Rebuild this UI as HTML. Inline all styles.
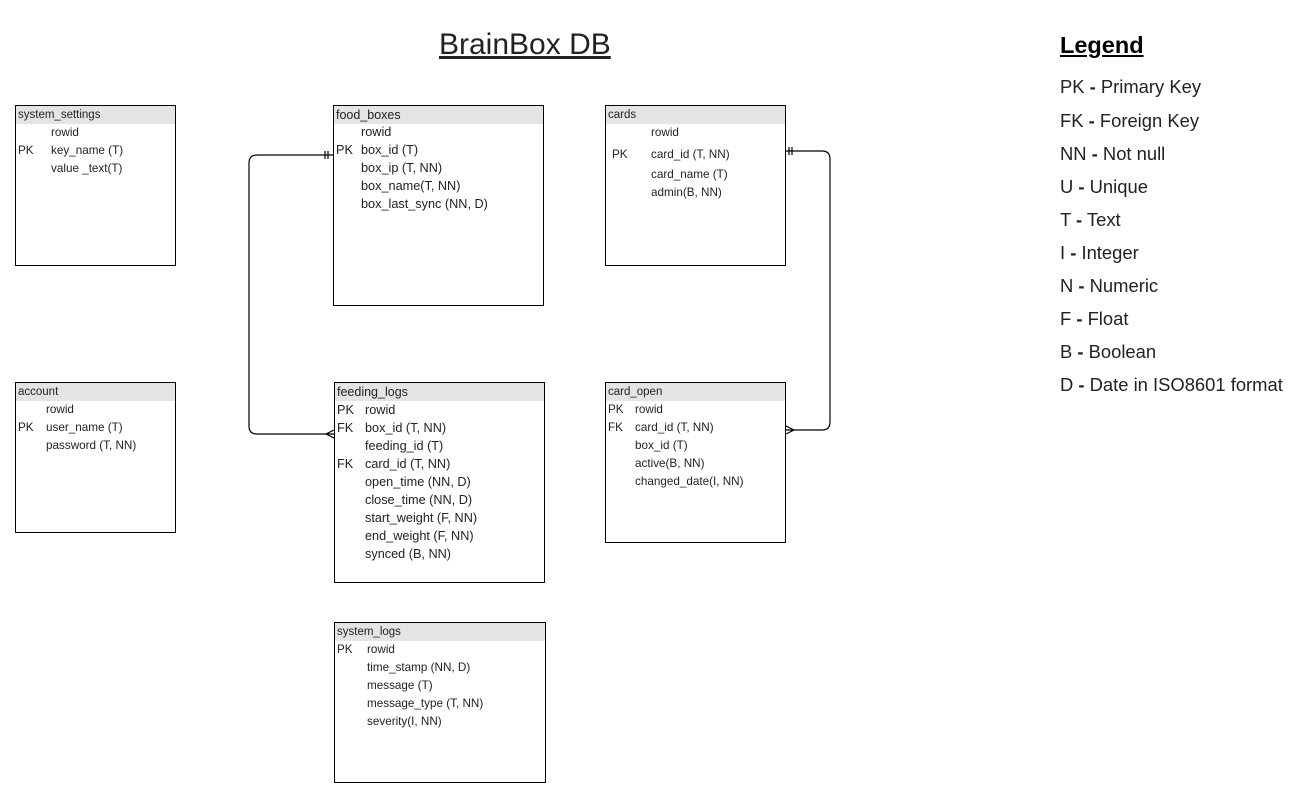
<!DOCTYPE html>
<html><head><meta charset="utf-8"><style>
body{margin:0;background:#fff;width:1311px;height:798px;position:relative;overflow:hidden;font-family:"Liberation Sans",Arial,sans-serif;color:#222}
.b{position:absolute;border:1px solid #000;box-sizing:border-box;background:#fff}
.h{position:absolute;left:0;right:0;top:0;height:18px;background:#e4e4e4;font-size:11.5px;line-height:18px;padding-left:2px}
.t{position:absolute;white-space:nowrap;font-size:11.7px;line-height:14px}
.m .h{font-size:12.5px}
.m .t{font-size:12.7px;line-height:16px}
.lg{position:absolute;left:1060px;font-size:18.4px;line-height:22px;white-space:nowrap}
</style></head><body>
<div style="position:absolute;left:439px;top:27px;font-size:30px;line-height:36px;text-decoration:underline">BrainBox DB</div>

<svg width="1311" height="798" style="position:absolute;left:0;top:0" fill="none" stroke="#000" stroke-width="1.2">
<path d="M333 155 H257 Q249 155 249 163 V426 Q249 434 257 434 H334"/>
<path d="M325 151 V159 M328 151 V159"/>
<path d="M334 430 L326 434 L334 438"/>
<path d="M786 151 H822 Q830 151 830 159 V422 Q830 430 822 430 H786"/>
<path d="M789 147 V155 M792 147 V155"/>
<path d="M786 426 L794 430 L786 434"/>
</svg>

<div class="b" style="left:15px;top:105px;width:161px;height:161px"><div class="h">system_settings</div>
<div class="t" style="left:35px;top:20px">rowid</div>
<div class="t" style="left:2px;top:38px">PK</div><div class="t" style="left:35px;top:38px">key_name (T)</div>
<div class="t" style="left:35px;top:56px">value _text(T)</div></div>

<div class="b m" style="left:333px;top:105px;width:211px;height:201px"><div class="h">food_boxes</div>
<div class="t" style="left:27px;top:18px">rowid</div>
<div class="t" style="left:2px;top:36px">PK</div><div class="t" style="left:27px;top:36px">box_id (T)</div>
<div class="t" style="left:27px;top:54px">box_ip (T, NN)</div>
<div class="t" style="left:27px;top:72px">box_name(T, NN)</div>
<div class="t" style="left:27px;top:90px">box_last_sync (NN, D)</div></div>

<div class="b" style="left:605px;top:105px;width:181px;height:161px"><div class="h">cards</div>
<div class="t" style="left:45px;top:20px">rowid</div>
<div class="t" style="left:6px;top:42px">PK</div><div class="t" style="left:45px;top:42px">card_id (T, NN)</div>
<div class="t" style="left:45px;top:62px">card_name (T)</div>
<div class="t" style="left:45px;top:80px">admin(B, NN)</div></div>

<div class="b" style="left:15px;top:382px;width:161px;height:151px"><div class="h">account</div>
<div class="t" style="left:30px;top:20px">rowid</div>
<div class="t" style="left:2px;top:38px">PK</div><div class="t" style="left:30px;top:38px">user_name (T)</div>
<div class="t" style="left:30px;top:56px">password (T, NN)</div></div>

<div class="b m" style="left:334px;top:382px;width:211px;height:201px"><div class="h">feeding_logs</div>
<div class="t" style="left:2px;top:19px">PK</div><div class="t" style="left:30px;top:19px">rowid</div>
<div class="t" style="left:2px;top:37px">FK</div><div class="t" style="left:30px;top:37px">box_id (T, NN)</div>
<div class="t" style="left:30px;top:55px">feeding_id (T)</div>
<div class="t" style="left:2px;top:73px">FK</div><div class="t" style="left:30px;top:73px">card_id (T, NN)</div>
<div class="t" style="left:30px;top:91px">open_time (NN, D)</div>
<div class="t" style="left:30px;top:109px">close_time (NN, D)</div>
<div class="t" style="left:30px;top:127px">start_weight (F, NN)</div>
<div class="t" style="left:30px;top:145px">end_weight (F, NN)</div>
<div class="t" style="left:30px;top:163px">synced (B, NN)</div></div>

<div class="b" style="left:605px;top:382px;width:181px;height:161px"><div class="h">card_open</div>
<div class="t" style="left:2px;top:20px">PK</div><div class="t" style="left:29px;top:20px">rowid</div>
<div class="t" style="left:2px;top:38px">FK</div><div class="t" style="left:29px;top:38px">card_id (T, NN)</div>
<div class="t" style="left:29px;top:56px">box_id (T)</div>
<div class="t" style="left:29px;top:74px">active(B, NN)</div>
<div class="t" style="left:29px;top:92px">changed_date(I, NN)</div></div>

<div class="b" style="left:334px;top:622px;width:212px;height:161px"><div class="h">system_logs</div>
<div class="t" style="left:2px;top:20px">PK</div><div class="t" style="left:32px;top:20px">rowid</div>
<div class="t" style="left:32px;top:38px">time_stamp (NN, D)</div>
<div class="t" style="left:32px;top:56px">message (T)</div>
<div class="t" style="left:32px;top:74px">message_type (T, NN)</div>
<div class="t" style="left:32px;top:92px">severity(I, NN)</div></div>

<div class="lg" style="top:32px;font-size:23.5px;line-height:26px;font-weight:bold;text-decoration:underline;color:#000">Legend</div>
<div class="lg" style="top:76px">PK <b>-</b> Primary Key</div>
<div class="lg" style="top:110px">FK <b>-</b> Foreign Key</div>
<div class="lg" style="top:143px">NN <b>-</b> Not null</div>
<div class="lg" style="top:176px">U <b>-</b> Unique</div>
<div class="lg" style="top:209px">T <b>-</b> Text</div>
<div class="lg" style="top:242px">I <b>-</b> Integer</div>
<div class="lg" style="top:275px">N <b>-</b> Numeric</div>
<div class="lg" style="top:308px">F <b>-</b> Float</div>
<div class="lg" style="top:341px">B <b>-</b> Boolean</div>
<div class="lg" style="top:374px">D <b>-</b> Date in ISO8601 format</div>
</body></html>
